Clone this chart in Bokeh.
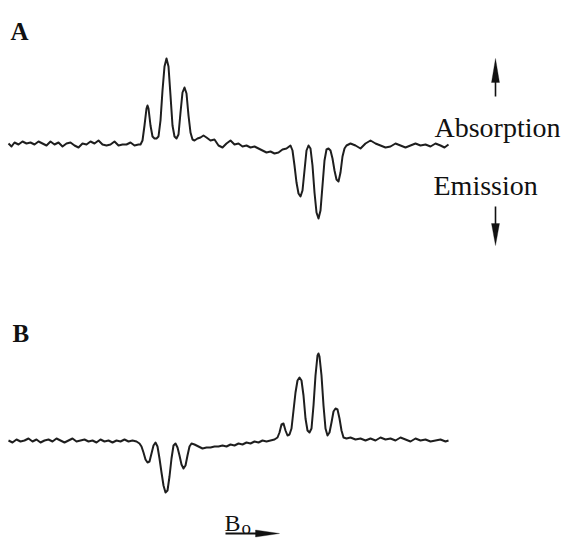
from bokeh.plotting import figure
from bokeh.models import Range1d, Label, Arrow, PolyAnnotation, ColumnDataSource
from bokeh.embed import file_html
from bokeh.resources import INLINE

# ---- Data: spectrum A (field channel, intensity, arb. units) ----
chan_a = [0, 3, 6, 10, 14, 18, 22, 26, 30, 34, 38, 42, 46, 50, 54, 58, 62, 66, 70, 74,
          78, 82, 86, 90, 94, 98, 102, 106, 110, 114, 118, 122, 126, 130, 132, 134, 136, 138, 139, 140,
          142, 144, 146, 148, 150, 152, 154, 156, 158, 160, 162, 164, 166, 168, 170, 172, 174, 176, 178, 180,
          182, 184, 186, 189, 192, 195, 198, 202, 206, 210, 214, 218, 222, 226, 230, 234, 238, 242, 246, 250,
          254, 258, 262, 266, 270, 274, 278, 282, 284, 286, 288, 290, 292, 294, 296, 298, 300, 302, 304, 306,
          308, 310, 312, 314, 316, 318, 320, 322, 324, 326, 328, 330, 332, 334, 336, 338, 342, 347, 352, 357,
          362, 367, 372, 377, 382, 387, 392, 397, 402, 407, 412, 417, 422, 427, 432, 436, 440]
int_a = [2, -1, 3, 1, 4, 2, 3, 1, 4, 2, 0, 4, 1, 3, -1, 2, 3, 0, -2, 2,
         1, 4, 2, 5, 1, 0, 1, 4, 0, 1, 1, 3, 0, 1, 1, 5, 20, 37, 40, 37,
         20, 9, 7, 7, 9, 25, 55, 79, 87, 79, 50, 20, 9, 7, 11, 33, 53, 58, 52, 30,
         13, 6, 5, 7, 8, 10, 8, 5, 6, 0, -2, 2, 5, 1, 2, -1, 0, -2, -1, -3,
         -5, -7, -6, -8, -7, -4, -3, 0, -5, -20, -37, -48, -51, -45, -25, -5, 0, -3, -20, -47,
         -67, -73, -65, -40, -15, -4, -3, -5, -13, -25, -34, -36, -27, -11, -3, 0, 2, 0, -3, 2,
         5, 2, 0, -2, -1, 2, 0, -2, 0, 2, 0, 1, -1, 2, 0, -2, 1]

# ---- Data: spectrum B ----
chan_b = [0, 4, 8, 12, 16, 20, 24, 28, 32, 36, 40, 44, 48, 52, 56, 60, 64, 68, 72, 76,
          80, 84, 88, 92, 96, 100, 104, 108, 112, 116, 120, 124, 128, 131, 133, 135, 137, 139, 141, 143,
          145, 147, 149, 151, 153, 155, 157, 159, 161, 163, 165, 167, 169, 171, 173, 175, 177, 179, 181, 183,
          186, 190, 194, 198, 202, 206, 210, 214, 218, 222, 226, 230, 234, 238, 242, 246, 250, 254, 258, 262,
          266, 269, 271, 273, 275, 277, 279, 281, 283, 285, 287, 289, 291, 293, 295, 297, 299, 301, 303, 305,
          307, 309, 310, 311, 313, 315, 317, 319, 321, 323, 325, 327, 329, 331, 333, 335, 338, 342, 347, 352,
          357, 362, 367, 372, 377, 382, 387, 392, 397, 402, 407, 412, 417, 422, 427, 432, 437, 440]
int_b = [0, -2, 1, -1, 0, 2, -1, 1, -2, 0, 1, -1, 2, 0, -2, 0, 2, -1, 0, 1,
         -1, 0, -2, 1, -1, 0, -2, 0, -1, 1, -1, 0, -1, -3, -6, -12, -19, -22, -21, -13,
         -5, -2, -6, -18, -32, -45, -52, -50, -36, -18, -5, -3, -7, -15, -24, -28, -25, -15, -6, -3,
         -4, -6, -8, -7, -7, -6, -6, -5, -6, -4, -5, -3, -4, -2, -3, -1, -2, 0, -1, 0,
         1, 3, 8, 16, 17, 10, 5, 6, 12, 30, 48, 60, 63, 60, 45, 22, 10, 8, 12, 35,
         65, 85, 87, 84, 65, 35, 12, 5, 8, 18, 29, 32, 31, 22, 10, 3, 2, 3, 1, 2,
         0, 2, 0, 3, 1, 2, 0, 3, 1, -1, 2, 0, 1, -1, 0, 1, -1, 0]

# ---- Layout helpers (picture pixel -> data coords on range A) ----
W, H = 566, 539
OFF = 8                     # channel 0 sits at picture x = 8
BASE_A, BASE_B = 145, 440   # baselines in picture pixels


def sx(px):
    return px - OFF


def sy(py):
    return BASE_A - py


p = figure(width=W, height=H, output_backend="svg", toolbar_location=None,
           x_range=Range1d(-OFF, W - OFF), y_range=Range1d(BASE_A - H, BASE_A),
           min_border=0, min_border_left=0, min_border_right=0,
           min_border_top=0, min_border_bottom=0)
p.extra_y_ranges = {"B": Range1d(BASE_B - H, BASE_B)}
p.xaxis.visible = False
p.yaxis.visible = False
p.grid.visible = False
p.outline_line_color = None
p.background_fill_color = "white"
p.border_fill_color = "white"

src_a = ColumnDataSource(data=dict(x=chan_a, y=int_a))
src_b = ColumnDataSource(data=dict(x=chan_b, y=int_b))
p.line("x", "y", source=src_a, line_color="#1e1e1e", line_width=2, line_join="round")
p.line("x", "y", source=src_b, line_color="#1e1e1e", line_width=2, line_join="round",
       y_range_name="B")

serif = "Liberation Serif"


def label(text, px, py, size, bold=False):
    p.add_layout(Label(x=sx(px), y=sy(py), text=text, text_font=serif,
                       text_font_size=f"{size}px", text_color="#111111",
                       text_font_style="bold" if bold else "normal",
                       text_baseline="alphabetic", text_align="left"))


label("A", 10, 31, 25, bold=True)
label("B", 12, 333, 25, bold=True)
label("Absorption", 434, 127, 28)
label("Emission", 433, 185, 28)
label("B", 224, 522, 24)
label("o", 241, 527, 19)


def shaft(x0, y0, x1, y1, w=1.6):
    p.add_layout(Arrow(end=None, x_start=sx(x0), y_start=sy(y0), x_end=sx(x1), y_end=sy(y1),
                       line_color="#111111", line_width=w))


def head(pts):
    p.add_layout(PolyAnnotation(xs=[sx(a) for a, b in pts], ys=[sy(b) for a, b in pts],
                                fill_color="#111111", fill_alpha=1.0,
                                line_color="#111111", line_width=1))


shaft(495, 96, 495, 80)
head([(495, 58), (491, 82), (499, 82)])
shaft(495, 206, 495, 225)
head([(495, 245), (491, 223), (499, 223)])
shaft(225, 533, 258, 533, w=2.2)
head([(279, 533), (255, 529.5), (255, 536.5)])

open("out.html", "w").write(file_html(p, INLINE))
